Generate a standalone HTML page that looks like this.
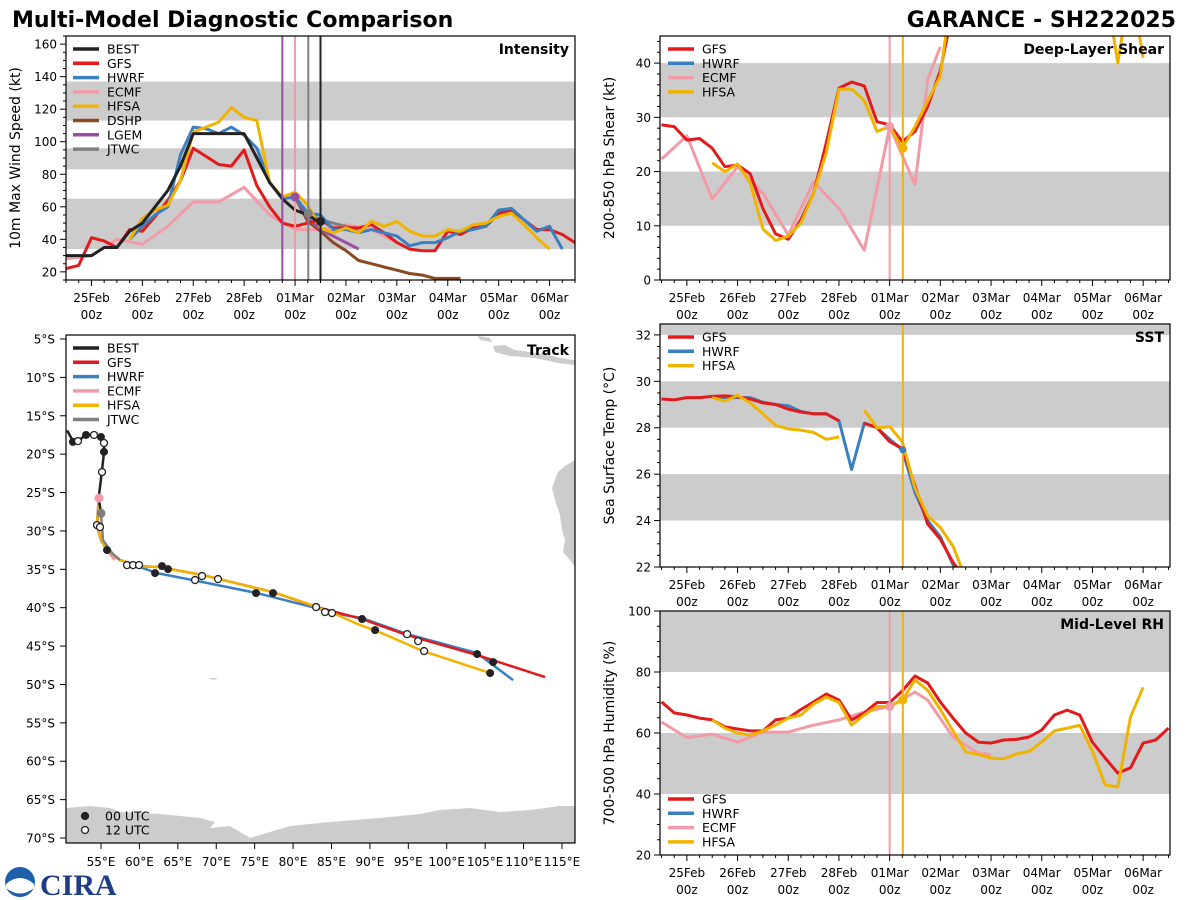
<!DOCTYPE html>
<html><head><meta charset="utf-8">
<style>
html,body{margin:0;padding:0;background:#fff;}
svg{display:block;font-family:"DejaVu Sans","Liberation Sans",sans-serif;}
</style></head>
<body>
<svg id="chart" width="1200" height="900" viewBox="0 0 1200 900" xmlns="http://www.w3.org/2000/svg">
<text x="12" y="27" font-size="22" font-weight="bold">Multi-Model Diagnostic Comparison</text>
<text x="1176" y="27" font-size="22" font-weight="bold" text-anchor="end">GARANCE - SH222025</text>
<g>
<circle cx="20" cy="882" r="15" fill="#1d5fa8"/>
<path d="M6,884 Q20,872 34,884 L34,888 Q20,899 6,888Z" fill="#fff"/>
<text x="40" y="895" font-size="30" font-weight="bold" fill="#1f3c88" font-family="Liberation Serif,serif">CIRA</text>
</g>
</svg>
<script>
// ---------- data ----------
const dayLabels = ["25Feb","26Feb","27Feb","28Feb","01Mar","02Mar","03Mar","04Mar","05Mar","06Mar"];
const intBestStart = -0.5;
const intBest = [30,30,30,35,35,45,50,60,70,85,105,105,105,105,105,90,75,65,58,55,50];
const intGfsStart = -0.5;
const intGfs = [22,24,41,39,35,46,45,54,64,76,96,91,86,85,95,73,60,50,48,50,52,47,47,47,49,44,38,34,33,33,45,43,47,48,56,58,52,46,46,43,38];
const intHwrfStart = 0.75;
const intHwrf = [40,48,55,60,92,109,108,105,109,104,96,75,65,66,56,55,46,46,44,46,44,42,36,38,38,41,45,46,48,58,59,52,45,48,34];
const intHfsaStart = 0.75;
const intHfsa = [40,53,58,61,76,106,109,112,121,115,113,75,66,69,61,47,44,47,44,51,48,51,45,42,42,46,45,49,50,54,56,49,41,34];
const intEcmfStart = -0.5;
const intEcmf = [28,30,40,37,48,63,63,72,55,46,46,49,46,38];
const intDshp = [66,51,45,38,33,27,25,23,21,19,18,16,16,16];
const intLgem = [66,53,46,42,38,34];
const intJtwc = [66,56,52,50,48,46];
const intVlines = [3.75,4.0,4.26,4.5];
const shrGfs = [28.6,28.3,25.8,26.1,24.3,20.9,21.2,19.6,13.2,8.5,7.5,11.1,16,25.3,35.4,36.5,35.8,29.2,28.6,25.5,27.4,32,38.6,50];
const shrHfsa = [21.6,20,21.4,17.9,9.4,7.3,8.1,10.5,16,23.5,35.2,35.2,33.1,27.4,28.3,24.3,28.3,33,37.6,55,60,58,56,60,62,58,55,57,60,56,58,55,40,55,41];
const shrEcmfT = [-0.5,0,0.5,1,1.5,2,2.5,3,3.5,4,4.5,4.75,5];
const shrEcmf = [22.3,26.6,14.9,20.9,16,8.3,18.1,13.2,5.5,28.3,17.6,37,43];
const sstGfs = [29.24,29.2,29.3,29.3,29.35,29.37,29.33,29.24,29.07,29.0,28.8,28.68,28.6,28.6,28.3,null,28.2,28.0,27.4,27.1,25.5,23.85,23.2,22.2,21.5];
const sstHwrf = [29.3,29.3,29.3,29.3,29.1,29.0,28.95,28.7,28.6,28.6,28.3,26.2,28.2,28.0,27.5,27.05,25.2,24.0,23.3,22.1,21.5];
const sstHfsa = [29.3,29.15,29.4,29.07,28.6,28.1,27.95,27.9,27.8,27.5,27.6,null,28.75,28.0,28.05,27.4,25.4,24.2,23.7,22.9,21.5];
const rhGfs = [70.2,66.6,65.9,64.9,64.3,62,61.3,60.7,60.7,64.3,64.9,67.7,70.2,72.8,70.8,64.3,66.6,70,70,73.8,78.7,76.4,70.2,64.9,60,57,56.7,57.7,57.9,58.7,61,65.9,67.5,65.9,57,51.8,46.9,48.6,56.7,57.7,61.6];
const rhHfsa = [64.3,61.6,60,59.3,60.7,62.6,64.9,65.9,69.5,71.8,70,62.6,65.9,68.7,68.7,70.8,77.4,74,67.7,60.7,53.8,53,51.8,51.5,53.1,54,57,60.7,61.6,62.5,54,43,42.3,65.2,75];
const rhEcmfT = [-0.5,0,0.5,1,1.5,2,2.5,3,3.5,4,4.5,4.75,5.25,5.75,6];
const rhEcmf = [63.6,58.5,59.6,57,60.3,60.3,62.6,64.3,66.9,68.7,73.4,70.8,58.7,53.4,53];
const trkBestLon = [50.6,51.4,52.0,53.0,54.1,55.0,55.4,55.4,55.1,54.7,55.0];
const trkBestLat = [16.9,18.4,18.3,17.5,17.5,17.8,18.5,19.7,22.3,25.7,27.7];
const trkCommonLon = [54.74,54.48,55.0,55.78,57.47,60.08];
const trkCommonLat = [25.72,29.24,31.19,32.49,33.8,34.58];
const trkGfsLon = [62.68,68.28,77.39,83.12,88.98,94.84,103.95,112.8];
const trkGfsLat = [34.71,35.75,37.97,39.92,41.48,43.57,46.17,49.04];
const trkHfsaLon = [62.68,68.28,77.39,80.91,85.2,88.72,90.93,96.92,105.65];
const trkHfsaLat = [34.71,35.75,37.97,39.14,40.7,42.27,43.05,45.65,48.52];
const trkHwrfLon = [60.08,62.29,66.98,75.31,83.51,85.2,88.98,94.84,103.95,108.64];
const trkHwrfLat = [34.71,35.49,36.4,38.1,40.18,40.7,41.35,43.44,45.92,49.43];
const trkEcmfLon = [54.74,54.48,55.0,55.78,56.8];
const trkEcmfLat = [25.72,29.24,31.19,32.49,33.8];
const trkJtwcLon = [55.0,55.26,56.43,57.47];
const trkJtwcLat = [27.7,31.19,32.88,33.8];
const dot00Lon = [51.35,53.05,55.0,55.39,55.78,62.03,62.94,63.72,75.18,77.39,88.98,90.67,103.95,106.04,105.65];
const dot00Lat = [18.4,17.5,17.77,19.7,32.49,35.49,34.58,34.97,38.1,38.1,41.48,42.92,46.04,47.09,48.52];
const dot12Lon = [52.0,54.09,55.39,55.13,54.48,54.87,58.39,59.17,59.95,67.24,68.15,70.23,83.0,84.16,85.07,94.84,96.27,97.05];
const dot12Lat = [18.3,17.5,18.55,22.33,29.24,29.5,34.45,34.45,34.45,36.4,35.88,36.27,39.92,40.57,40.7,43.44,44.35,45.65];

// ---------- helpers ----------
const NS="http://www.w3.org/2000/svg";
const svg=document.getElementById('chart');
const C={BEST:"#222222",GFS:"#e31a1c",HWRF:"#3a7fbf",ECMF:"#f29ba8",HFSA:"#f0b400",DSHP:"#8c4a23",LGEM:"#984ea3",JTWC:"#808080"};
function mk(tag,attrs,parent){const e=document.createElementNS(NS,tag);for(const k in attrs)e.setAttribute(k,attrs[k]);(parent||svg).appendChild(e);return e;}
function panel(name,x0,y0,w,h,xmin,xmax,ymin,ymax){
  const g=mk('g',{});
  
  
  const p={g,x0,y0,w,h,sx:v=>x0+(v-xmin)/(xmax-xmin)*w,sy:v=>y0+h-(v-ymin)/(ymax-ymin)*h,ymin,ymax,xmin,xmax};
  const cid='clip'+name; const cp=mk('clipPath',{id:cid},g); mk('rect',{x:x0,y:y0,width:w,height:h},cp);
  p.inner=mk('g',{'clip-path':'url(#'+cid+')'},g);
  return p;
}
function band(p,a,b){const y1=p.sy(Math.min(b,p.ymax+5)),y2=p.sy(a);const r=mk('rect',{x:p.x0,y:y1,width:p.w,height:y2-y1,fill:'#cccccc'},p.inner);
  
  }
function series(p,name,start,step,vals,color,w){
  let d='',pen=false;
  vals.forEach((v,i)=>{if(v===null){pen=false;return;}const x=p.sx(start+i*step),y=p.sy(v);d+=(pen?'L':'M')+x.toFixed(1)+','+y.toFixed(1);pen=true;});
  const e=mk('path',{d,fill:'none',stroke:color,'stroke-width':w||3,'stroke-linejoin':'round'},p.inner);
  
  
}
function seriesT(p,name,ts,vals,color){
  const d=vals.map((v,i)=>(i?'L':'M')+p.sx(ts[i]).toFixed(1)+','+p.sy(v).toFixed(1)).join('');
  const e=mk('path',{d,fill:'none',stroke:color,'stroke-width':3,'stroke-linejoin':'round'},p.inner);
  
  
}
function vline(p,t,color){const x=p.sx(t);const e=mk('line',{x1:x,x2:x,y1:p.y0,y2:p.y0+p.h,stroke:color,'stroke-width':2},p.inner);
  
  }
function dot(p,t,v,color,r){const e=mk('circle',{cx:p.sx(t),cy:p.sy(v),r:r||4.5,fill:color},p.inner);
  
  }
function frame(p){const e=mk('rect',{x:p.x0,y:p.y0,width:p.w,height:p.h,fill:'none',stroke:'#000','stroke-width':1.2},p.g);
  
  }
function timeAxis(p){
  for(let t=-0.5;t<=9.5+1e-6;t+=0.25){const x=p.sx(t);const maj=Math.abs(t-Math.round(t))<1e-6;
    mk('line',{x1:x,x2:x,y1:p.y0+p.h,y2:p.y0+p.h+(maj?6:3),stroke:'#000','stroke-width':1},p.g);}
  dayLabels.forEach((l,i)=>{const x=p.sx(i);
    const a=mk('text',{x,y:p.y0+p.h+22,'font-size':12,'text-anchor':'middle'},p.g);a.textContent=l;
    
    
    const b=mk('text',{x,y:p.y0+p.h+39,'font-size':12,'text-anchor':'middle'},p.g);b.textContent='00z';
    
    });
}
function yAxis(p,major,minor,title,fmt){
  for(let v=Math.ceil(p.ymin/minor)*minor;v<=p.ymax+1e-6;v+=minor){const y=p.sy(v);const maj=Math.abs(v/major-Math.round(v/major))<1e-6;
    mk('line',{x1:p.x0,x2:p.x0-(maj?6:3),y1:y,y2:y,stroke:'#000','stroke-width':1},p.g);
    if(maj){const t=mk('text',{x:p.x0-9,y:y+4.5,'font-size':12,'text-anchor':'end'},p.g);t.textContent=fmt?fmt(v):v;
      
      }}
  const cx=p.x0-46,cy=p.y0+p.h/2;
  const t=mk('text',{x:cx,y:cy,'font-size':14,'text-anchor':'middle',transform:`rotate(-90 ${cx} ${cy})`},p.g);t.textContent=title;
  
  
}
function ptitle(p,s){const t=mk('text',{x:p.x0+p.w-6,y:p.y0+18,'font-size':14,'font-weight':'bold','text-anchor':'end'},p.g);t.textContent=s;
  
  }
function legend(p,x,y,names){names.forEach((n,i)=>{const yy=y+i*14.3;
  const g=mk('g',{},p.g);
  
  
  mk('line',{x1:x,x2:x+26,y1:yy,y2:yy,stroke:C[n],'stroke-width':3.5},g);
  const t=mk('text',{x:x+34,y:yy+4.5,'font-size':12.5},g);t.textContent=n;});}

// ---------- Intensity ----------
const pI=panel('intensity-panel',66,36,509,244,-0.5,9.5,15,165);
[[34,65],[83,96],[113,137]].forEach(b=>band(pI,b[0],b[1]));
series(pI,'intensity-ecmf',intEcmfStart,0.5,intEcmf,C.ECMF);
series(pI,'intensity-dshp',4,0.25,intDshp,C.DSHP);
series(pI,'intensity-lgem',4,0.25,intLgem,C.LGEM);
series(pI,'intensity-jtwc',4,0.25,intJtwc,C.JTWC);
series(pI,'intensity-gfs',intGfsStart,0.25,intGfs,C.GFS);
series(pI,'intensity-hwrf',intHwrfStart,0.25,intHwrf,C.HWRF);
series(pI,'intensity-hfsa',intHfsaStart,0.25,intHfsa,C.HFSA);
series(pI,'intensity-best',intBestStart,0.25,intBest,C.BEST);
vline(pI,intVlines[0],C.LGEM);vline(pI,intVlines[1],C.ECMF);vline(pI,intVlines[2],C.JTWC);vline(pI,intVlines[3],C.BEST);
dot(pI,4,66,C.LGEM);dot(pI,4.26,56,C.JTWC);dot(pI,4.5,51,C.BEST);
frame(pI);timeAxis(pI);yAxis(pI,20,5,'10m Max Wind Speed (kt)');ptitle(pI,'Intensity');
legend(pI,73,49,['BEST','GFS','HWRF','ECMF','HFSA','DSHP','LGEM','JTWC']);

// ---------- Shear ----------
const pS=panel('shear-panel',660,36,510,244,-0.53,9.53,0,45);
[[10,20],[30,40]].forEach(b=>band(pS,b[0],b[1]));
seriesT(pS,'shear-ecmf',shrEcmfT,shrEcmf,C.ECMF);
series(pS,'shear-gfs',-0.5,0.25,shrGfs,C.GFS);
series(pS,'shear-hfsa',0.5,0.25,shrHfsa,C.HFSA);
vline(pS,4.0,C.ECMF);vline(pS,4.26,C.HFSA);
dot(pS,4,28.3,C.ECMF);dot(pS,4.26,24.3,C.HFSA);
frame(pS);timeAxis(pS);yAxis(pS,10,2,'200-850 hPa Shear (kt)');ptitle(pS,'Deep-Layer Shear');
legend(pS,668,49,['GFS','HWRF','ECMF','HFSA']);

// ---------- SST ----------
const pT=panel('sst-panel',660,324,510,243,-0.53,9.53,22,32.47);
[[24,26],[28,30],[32,33]].forEach(b=>band(pT,b[0],b[1]));
series(pT,'sst-hwrf',0.5,0.25,sstHwrf,C.HWRF);
series(pT,'sst-gfs',-0.5,0.25,sstGfs,C.GFS);
series(pT,'sst-hfsa',0.5,0.25,sstHfsa,C.HFSA);
vline(pT,4.26,C.HFSA);dot(pT,4.26,27.05,C.HWRF,3.5);
frame(pT);timeAxis(pT);yAxis(pT,2,0.5,'Sea Surface Temp (°C)');ptitle(pT,'SST');
legend(pT,668,337,['GFS','HWRF','HFSA']);

// ---------- RH ----------
const pR=panel('rh-panel',660,611,510,244,-0.53,9.53,20,100);
[[40,60],[80,100]].forEach(b=>band(pR,b[0],b[1]));
seriesT(pR,'rh-ecmf',rhEcmfT,rhEcmf,C.ECMF);
series(pR,'rh-gfs',-0.5,0.25,rhGfs,C.GFS);
series(pR,'rh-hfsa',0.5,0.25,rhHfsa,C.HFSA);
vline(pR,4.0,C.ECMF);vline(pR,4.26,C.HFSA);
dot(pR,4,68.7,C.ECMF);dot(pR,4.26,70.8,C.HFSA);
frame(pR);timeAxis(pR);yAxis(pR,20,5,'700-500 hPa Humidity (%)');ptitle(pR,'Mid-Level RH');
legend(pR,668,799,['GFS','HWRF','ECMF','HFSA']);

// ---------- Track ----------
const lonX=l=>101+(l-55)*7.683, latY=l=>339+(l-5)*7.677;
const tg=mk('g',{});


const tcp=mk('clipPath',{id:'clipTrack'},tg);mk('rect',{x:66,y:335,width:509,height:508},tcp);
const ti=mk('g',{'clip-path':'url(#clipTrack)'},tg);
const land=[
 "M66,808 L90,806 L110,808 L120,812 L160,814 L200,818 L215,822 L210,828 L230,826 L250,838 L290,826 L330,822 L380,818 L420,814 L440,810 L470,808 L500,812 L530,810 L560,806 L575,806 L575,843 L66,843Z",
 "M575,460 L565,466 L558,472 L552,488 L555,500 L560,515 L562,530 L565,540 L563,552 L570,560 L575,567Z",
 "M478,336 L490,338 L492,342 L480,340Z M493,346 L505,345 L515,350 L530,352 L545,354 L560,358 L575,360 L575,365 L558,363 L535,358 L510,356 L495,352Z",
 "M208,678 L218,678 L214,680Z"];
land.forEach(d=>{const e=mk('path',{d,fill:'#cccccc'},ti);
  
  });
function trk(name,lons,lats,color,w){const d=lons.map((l,i)=>(i?'L':'M')+lonX(l).toFixed(1)+','+latY(lats[i]).toFixed(1)).join('');
  const e=mk('path',{d,fill:'none',stroke:color,'stroke-width':w||2.5,'stroke-linejoin':'round'},ti);
  
  }
trk('track-ecmf',trkEcmfLon,trkEcmfLat,C.ECMF,3);
trk('track-hwrf',trkCommonLon.concat(trkHwrfLon),trkCommonLat.concat(trkHwrfLat),C.HWRF);
trk('track-gfs',trkCommonLon.concat(trkGfsLon),trkCommonLat.concat(trkGfsLat),C.GFS);
trk('track-hfsa',trkCommonLon.concat(trkHfsaLon),trkCommonLat.concat(trkHfsaLat),C.HFSA);
trk('track-jtwc',trkJtwcLon,trkJtwcLat,C.JTWC);
trk('track-best',trkBestLon,trkBestLat,C.BEST);
dot00Lon.forEach((l,i)=>{const e=mk('circle',{cx:lonX(l),cy:latY(dot00Lat[i]),r:4,fill:'#222'},ti);
  
  });
dot12Lon.forEach((l,i)=>{const e=mk('circle',{cx:lonX(l),cy:latY(dot12Lat[i]),r:3.5,fill:'#fff',stroke:'#222','stroke-width':1.3},ti);
  
  });
[[54.74,25.72,C.ECMF],[55.0,27.7,C.JTWC]].forEach(a=>{const e=mk('circle',{cx:lonX(a[0]),cy:latY(a[1]),r:4.5,fill:a[2]},ti);
  
  });
const tf=mk('rect',{x:66,y:335,width:509,height:508,fill:'none',stroke:'#000','stroke-width':1.2},tg);


for(let la=5;la<=70;la+=5){const y=latY(la);mk('line',{x1:66,x2:60,y1:y,y2:y,stroke:'#000'},tg);
  const t=mk('text',{x:55,y:y+4.5,'font-size':12,'text-anchor':'end'},tg);t.textContent=la+'°S';
  
  }
for(let lo=55;lo<=115;lo+=5){const x=lonX(lo);mk('line',{x1:x,x2:x,y1:843,y2:849,stroke:'#000'},tg);
  const t=mk('text',{x,y:866,'font-size':12,'text-anchor':'middle'},tg);t.textContent=lo+'°E';
  
  }
const tt=mk('text',{x:569,y:355,'font-size':14,'font-weight':'bold','text-anchor':'end'},tg);tt.textContent='Track';


['BEST','GFS','HWRF','ECMF','HFSA','JTWC'].forEach((n,i)=>{const yy=348+i*14.3;const g=mk('g',{},tg);
  
  
  mk('line',{x1:73,x2:99,y1:yy,y2:yy,stroke:C[n],'stroke-width':3.5},g);
  const t=mk('text',{x:107,y:yy+4.5,'font-size':12.5},g);t.textContent=n;});
[['00 UTC',816,'#222'],['12 UTC',830,'#fff']].forEach(a=>{const g=mk('g',{},tg);
  
  
  mk('circle',{cx:85,cy:a[1],r:3.5,fill:a[2],stroke:'#222','stroke-width':1.3},g);
  const t=mk('text',{x:105,y:a[1]+4.5,'font-size':12.5},g);t.textContent=a[0];});
</script>
</body></html>
